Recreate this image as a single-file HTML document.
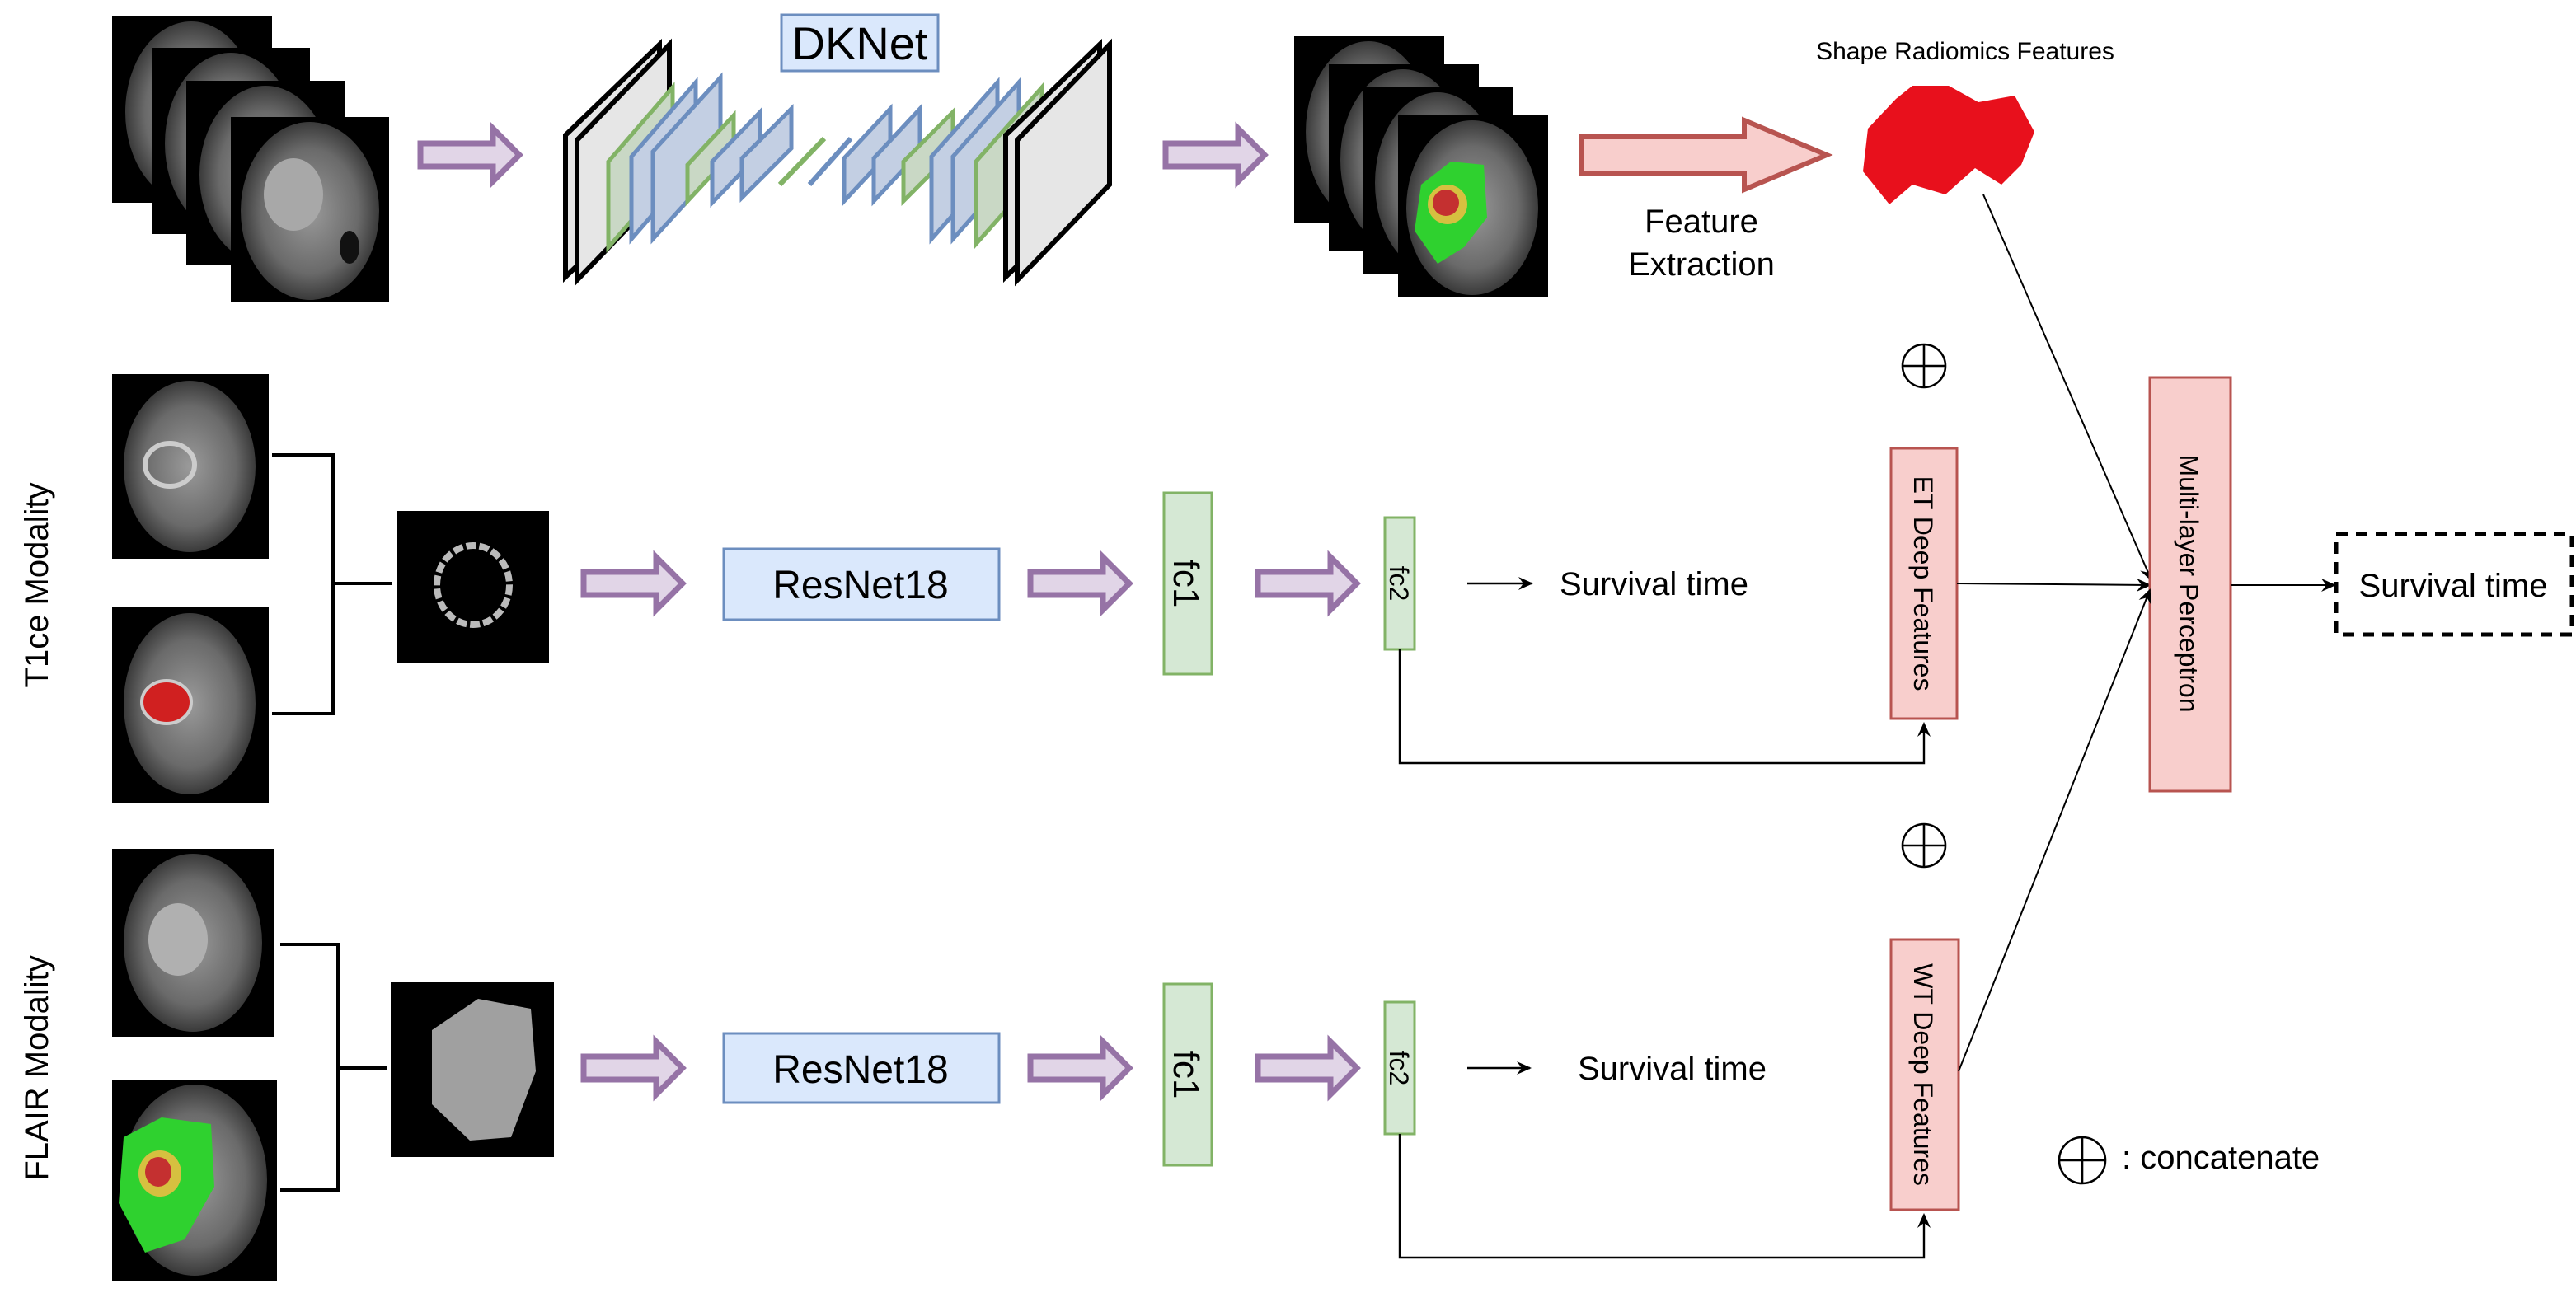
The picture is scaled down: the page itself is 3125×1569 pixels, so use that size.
<!DOCTYPE html>
<html><head><meta charset="utf-8"><style>
html,body{margin:0;padding:0;background:#fff;}
svg{display:block;}
text{font-family:"Liberation Sans",sans-serif;fill:#000;}
</style></head><body>
<svg width="3125" height="1569" viewBox="0 0 1562.5 784.5" xmlns="http://www.w3.org/2000/svg">
<defs>
<radialGradient id="br" cx="50%" cy="50%" r="50%">
<stop offset="0" stop-color="#9a9a9a"/><stop offset="0.7" stop-color="#6a6a6a"/><stop offset="1" stop-color="#3a3a3a"/>
</radialGradient>
<g id="pa"><polygon points="0,-7 44,-7 44,-16 60,0 44,16 44,7 0,7" fill="#e1d5e7" stroke="#9673a6" stroke-width="3.5"/></g>
<marker id="ah" markerWidth="10" markerHeight="10" refX="8" refY="5" orient="auto" markerUnits="userSpaceOnUse">
<path d="M0,1 L9,5 L0,9 L3,5 Z" fill="#000"/></marker>
</defs>

<!-- top input stack -->
<g>
<rect x="68" y="10" width="97" height="113" fill="#000"/><ellipse cx="116" cy="68" rx="40" ry="55" fill="url(#br)"/>
<rect x="92" y="29" width="96" height="113" fill="#000"/><ellipse cx="140" cy="87" rx="40" ry="55" fill="url(#br)"/>
<rect x="113" y="49" width="96" height="112" fill="#000"/><ellipse cx="161" cy="106" rx="40" ry="54" fill="url(#br)"/>
<rect x="140" y="71" width="96" height="112" fill="#000"/><ellipse cx="188" cy="128" rx="42" ry="54" fill="url(#br)"/>
<ellipse cx="178" cy="118" rx="18" ry="22" fill="#a8a8a8"/><ellipse cx="212" cy="150" rx="6" ry="10" fill="#111"/>
</g>
<use href="#pa" x="255" y="94"/>

<!-- DKNet -->
<rect x="474" y="9" width="95" height="34" fill="#dae8fc" stroke="#6c8ebf" stroke-width="1.5"/>
<text x="521.5" y="36" font-size="28" text-anchor="middle">DKNet</text>
<g stroke-width="3" stroke-linejoin="miter">
<polygon points="343,82 343,168 400,113 400,27" fill="#e6e6e6" stroke="#000"/>
<polygon points="350,85 350,170 406,112 406,27" fill="#e6e6e6" stroke="#000"/>
<polygon points="369,98 369,150 408,105 408,53" fill="#c9d8c5" stroke="#82b366" stroke-width="2.5"/>
<polygon points="383,95 383,145 422,100 422,50" fill="#c3cfe3" stroke="#6c8ebf" stroke-width="2.5"/>
<polygon points="396,92 396,145 437,100 437,47" fill="#c3cfe3" stroke="#6c8ebf" stroke-width="2.5"/>
<polygon points="417,100 417,122 445,92 445,70" fill="#c9d8c5" stroke="#82b366" stroke-width="2.5"/>
<polygon points="432,98 432,123 461,93 461,68" fill="#c3cfe3" stroke="#6c8ebf" stroke-width="2.5"/>
<polygon points="450,96 450,120 480,90 480,66" fill="#c3cfe3" stroke="#6c8ebf" stroke-width="2.5"/>
<line x1="473" y1="112" x2="500" y2="84" stroke="#82b366" stroke-width="3"/>
<line x1="491" y1="112" x2="516" y2="84" stroke="#6c8ebf" stroke-width="3"/>
<polygon points="512,96 512,122 540,92 540,66" fill="#c3cfe3" stroke="#6c8ebf" stroke-width="2.5"/>
<polygon points="530,96 530,122 558,92 558,66" fill="#c3cfe3" stroke="#6c8ebf" stroke-width="2.5"/>
<polygon points="548,98 548,122 578,92 578,68" fill="#c9d8c5" stroke="#82b366" stroke-width="2.5"/>
<polygon points="565,95 565,145 605,100 605,50" fill="#c3cfe3" stroke="#6c8ebf" stroke-width="2.5"/>
<polygon points="578,95 578,145 618,100 618,50" fill="#c3cfe3" stroke="#6c8ebf" stroke-width="2.5"/>
<polygon points="592,98 592,148 632,103 632,53" fill="#c9d8c5" stroke="#82b366" stroke-width="2.5"/>
<polygon points="610,82 610,168 667,113 667,27" fill="#e6e6e6" stroke="#000"/>
<polygon points="617,85 617,170 673,112 673,27" fill="#e6e6e6" stroke="#000"/>
</g>
<use href="#pa" x="707" y="94"/>

<!-- output stack -->
<g>
<rect x="785" y="22" width="91" height="113" fill="#000"/><ellipse cx="830" cy="80" rx="38" ry="55" fill="url(#br)"/>
<rect x="806" y="39" width="91" height="113" fill="#000"/><ellipse cx="851" cy="97" rx="38" ry="55" fill="url(#br)"/>
<rect x="827" y="53" width="91" height="113" fill="#000"/><ellipse cx="872" cy="111" rx="38" ry="55" fill="url(#br)"/>
<rect x="848" y="70" width="91" height="110" fill="#000"/><ellipse cx="893" cy="126" rx="40" ry="53" fill="url(#br)"/>
<path d="M862,112 L880,98 L900,100 L902,132 L888,150 L872,160 L858,140 Z" fill="#2fd12f"/>
<ellipse cx="878" cy="124" rx="12" ry="12" fill="#d6c040"/><ellipse cx="877" cy="123" rx="8" ry="8" fill="#c43030"/>
</g>

<!-- feature extraction arrow -->
<polygon points="959,83 1058,83 1058,73 1108,94 1058,115 1058,105 959,105" fill="#f8cecc" stroke="#b85450" stroke-width="3"/>
<text x="1032" y="141" font-size="20" text-anchor="middle">Feature</text>
<text x="1032" y="167" font-size="20" text-anchor="middle">Extraction</text>
<text x="1192" y="36" font-size="15" text-anchor="middle">Shape Radiomics Features</text>
<path d="M1133,78 L1150,60 L1160,52 L1182,52 L1200,62 L1222,58 L1234,80 L1226,100 L1214,112 L1198,102 L1180,118 L1160,112 L1146,124 L1130,104 Z" fill="#e8101c"/>
<line x1="1203" y1="118" x2="1305" y2="352" stroke="#000" stroke-width="1" marker-end="url(#ah)"/>

<!-- T1ce row -->
<text transform="translate(29,355) rotate(-90)" font-size="20" text-anchor="middle">T1ce Modality</text>
<rect x="68" y="227" width="95" height="112" fill="#000"/><ellipse cx="115" cy="283" rx="40" ry="52" fill="url(#br)"/>
<ellipse cx="103" cy="282" rx="15" ry="13" fill="none" stroke="#ccc" stroke-width="3"/>
<rect x="68" y="368" width="95" height="119" fill="#000"/><ellipse cx="115" cy="427" rx="40" ry="55" fill="url(#br)"/>
<ellipse cx="101" cy="426" rx="15" ry="13" fill="#d02020" stroke="#ccc" stroke-width="2"/>
<polyline points="165,276 202,276 202,433 165,433" fill="none" stroke="#000" stroke-width="2"/>
<line x1="202" y1="354" x2="238" y2="354" stroke="#000" stroke-width="2"/>
<rect x="241" y="310" width="92" height="92" fill="#000"/>
<ellipse cx="287" cy="355" rx="22" ry="24" fill="none" stroke="#bbb" stroke-width="4" stroke-dasharray="6 2"/>
<use href="#pa" x="354" y="354"/>
<rect x="439" y="333" width="167" height="43" fill="#dae8fc" stroke="#6c8ebf" stroke-width="1.5"/>
<text x="522" y="363" font-size="24" text-anchor="middle">ResNet18</text>
<use href="#pa" x="625" y="354"/>
<rect x="706" y="299" width="29" height="110" fill="#d5e8d4" stroke="#82b366" stroke-width="1.5"/>
<text transform="translate(712,354) rotate(90)" font-size="22" text-anchor="middle">fc1</text>
<use href="#pa" x="763" y="354"/>
<rect x="840" y="314" width="18" height="80" fill="#d5e8d4" stroke="#82b366" stroke-width="1.5"/>
<text transform="translate(843,354) rotate(90)" font-size="16" text-anchor="middle">fc2</text>
<line x1="890" y1="354" x2="929" y2="354" stroke="#000" stroke-width="1.2" marker-end="url(#ah)"/>
<text x="946" y="361" font-size="20">Survival time</text>
<polyline points="849,394 849,463 1167,463 1167,439" fill="none" stroke="#000" stroke-width="1.2" marker-end="url(#ah)"/>
<rect x="1147" y="272" width="40" height="164" fill="#f8cecc" stroke="#b85450" stroke-width="1.5"/>
<text transform="translate(1161,354) rotate(90)" font-size="16" text-anchor="middle">ET Deep Features</text>
<g fill="none" stroke="#000" stroke-width="1.3"><circle cx="1167" cy="222" r="13"/><line x1="1154" y1="222" x2="1180" y2="222"/><line x1="1167" y1="209" x2="1167" y2="235"/></g>
<line x1="1187" y1="354" x2="1304" y2="355" stroke="#000" stroke-width="1" marker-end="url(#ah)"/>
<rect x="1304" y="229" width="49" height="251" fill="#f8cecc" stroke="#b85450" stroke-width="1.5"/>
<text transform="translate(1322,354) rotate(90)" font-size="16" text-anchor="middle">Multi-layer Perceptron</text>
<line x1="1353" y1="355" x2="1416" y2="355" stroke="#000" stroke-width="1" marker-end="url(#ah)"/>
<rect x="1417" y="324" width="143" height="61" fill="none" stroke="#000" stroke-width="2.5" stroke-dasharray="7 5"/>
<text x="1488" y="362" font-size="20" text-anchor="middle">Survival time</text>

<!-- FLAIR row -->
<text transform="translate(29,648) rotate(-90)" font-size="20" text-anchor="middle">FLAIR Modality</text>
<rect x="68" y="515" width="98" height="114" fill="#000"/><ellipse cx="117" cy="572" rx="42" ry="54" fill="url(#br)"/>
<ellipse cx="108" cy="570" rx="18" ry="22" fill="#b0b0b0"/>
<rect x="68" y="655" width="100" height="122" fill="#000"/><ellipse cx="118" cy="716" rx="44" ry="58" fill="url(#br)"/>
<path d="M75,690 L98,678 L128,682 L130,720 L112,752 L88,760 L72,730 Z" fill="#2fd12f"/>
<ellipse cx="97" cy="712" rx="13" ry="14" fill="#d6c040"/><ellipse cx="96" cy="711" rx="8" ry="9" fill="#c43030"/>
<polyline points="170,573 205,573 205,722 170,722" fill="none" stroke="#000" stroke-width="2"/>
<line x1="205" y1="648" x2="235" y2="648" stroke="#000" stroke-width="2"/>
<rect x="237" y="596" width="99" height="106" fill="#000"/>
<path d="M262,625 L290,606 L322,612 L325,650 L310,690 L285,692 L262,670 Z" fill="#a0a0a0"/>
<use href="#pa" x="354" y="648"/>
<rect x="439" y="627" width="167" height="42" fill="#dae8fc" stroke="#6c8ebf" stroke-width="1.5"/>
<text x="522" y="657" font-size="24" text-anchor="middle">ResNet18</text>
<use href="#pa" x="625" y="648"/>
<rect x="706" y="597" width="29" height="110" fill="#d5e8d4" stroke="#82b366" stroke-width="1.5"/>
<text transform="translate(712,652) rotate(90)" font-size="22" text-anchor="middle">fc1</text>
<use href="#pa" x="763" y="648"/>
<rect x="840" y="608" width="18" height="80" fill="#d5e8d4" stroke="#82b366" stroke-width="1.5"/>
<text transform="translate(843,648) rotate(90)" font-size="16" text-anchor="middle">fc2</text>
<line x1="890" y1="648" x2="928" y2="648" stroke="#000" stroke-width="1.2" marker-end="url(#ah)"/>
<text x="957" y="655" font-size="20">Survival time</text>
<polyline points="849,688 849,763 1167,763 1167,737" fill="none" stroke="#000" stroke-width="1.2" marker-end="url(#ah)"/>
<rect x="1147" y="570" width="41" height="164" fill="#f8cecc" stroke="#b85450" stroke-width="1.5"/>
<text transform="translate(1161,652) rotate(90)" font-size="16" text-anchor="middle">WT Deep Features</text>
<g fill="none" stroke="#000" stroke-width="1.3"><circle cx="1167" cy="513" r="13"/><line x1="1154" y1="513" x2="1180" y2="513"/><line x1="1167" y1="500" x2="1167" y2="526"/></g>
<line x1="1188" y1="650" x2="1304" y2="358" stroke="#000" stroke-width="1" marker-end="url(#ah)"/>
<g fill="none" stroke="#000" stroke-width="1.3"><circle cx="1263" cy="704" r="14"/><line x1="1249" y1="704" x2="1277" y2="704"/><line x1="1263" y1="690" x2="1263" y2="718"/></g>
<text x="1287" y="709" font-size="20">: concatenate</text>
</svg>
</body></html>
